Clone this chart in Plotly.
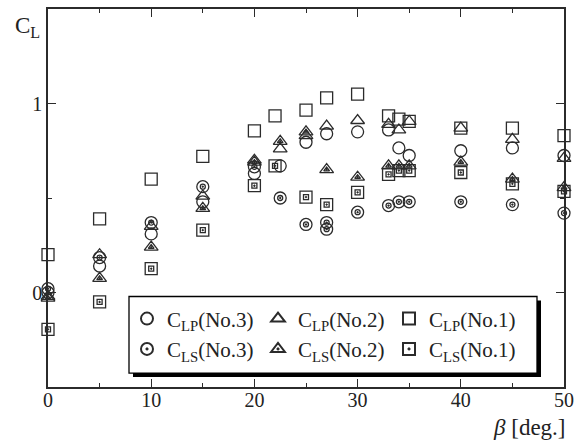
import plotly.graph_objects as go

# ---------------- data ----------------
beta_no1 = [0, 5, 10, 15, 20, 22, 25, 27, 30, 33, 34, 35, 40, 45, 50]
clp_no1 = [0.20, 0.39, 0.60, 0.72, 0.855, 0.935, 0.965, 1.03, 1.05, 0.935, 0.917, 0.905, 0.87, 0.87, 0.83]
cls_no1 = [-0.195, -0.05, 0.126, 0.33, 0.565, 0.67, 0.505, 0.465, 0.53, 0.625, 0.645, 0.645, 0.635, 0.575, 0.535]

beta_no2 = [0, 5, 10, 15, 20, 22.5, 25, 27, 30, 33, 34, 35, 40, 45, 50]
clp_no2 = [-0.02, 0.20, 0.35, 0.51, 0.70, 0.76, 0.83, 0.88, 0.91, 0.89, 0.86, 0.905, 0.87, 0.81, 0.71]
cls_no2 = [-0.03, 0.075, 0.24, 0.445, 0.69, 0.80, 0.85, 0.65, 0.61, 0.67, 0.67, 0.67, 0.69, 0.60, 0.555]

beta_lp3 = [0, 5, 10, 15, 20, 22.5, 25, 27, 30, 33, 34, 35, 40, 45, 50]
clp_no3 = [0.00, 0.14, 0.31, 0.48, 0.63, 0.67, 0.795, 0.84, 0.85, 0.86, 0.765, 0.725, 0.75, 0.765, 0.725]
beta_ls3 = [0, 5, 10, 15, 20, 22.5, 25, 27, 27, 30, 33, 34, 35, 40, 45, 50]
cls_no3 = [0.02, 0.185, 0.37, 0.56, 0.665, 0.50, 0.36, 0.37, 0.335, 0.425, 0.46, 0.48, 0.48, 0.48, 0.465, 0.42]

labels = ["C<sub>LP</sub>(No.3)", "C<sub>LP</sub>(No.2)", "C<sub>LP</sub>(No.1)",
          "C<sub>LS</sub>(No.3)", "C<sub>LS</sub>(No.2)", "C<sub>LS</sub>(No.1)"]

x_range = [0, 50]
y_range = [-0.5, 1.5]

# ---------------- styling ----------------
INK = "#2b2b2b"
FONT = "Liberation Serif"
LW = 1.3

fig = go.Figure()


def outer(x, y, name, symbol, size):
    fig.add_trace(go.Scatter(
        x=x, y=y, mode="markers", name=name, cliponaxis=False,
        marker=dict(symbol=symbol, size=size, color=INK,
                    line=dict(color=INK, width=LW)),
    ))


def inner(x, y, name, symbol, size):
    fig.add_trace(go.Scatter(
        x=x, y=y, mode="markers", name=name, cliponaxis=False, showlegend=False,
        marker=dict(symbol=symbol, size=size, color=INK,
                    line=dict(color=INK, width=LW)),
    ))


outer(beta_lp3, clp_no3, labels[0], "circle-open", 12)
outer(beta_no2, clp_no2, labels[1], "triangle-up-open", 12)
outer(beta_no1, clp_no1, labels[2], "square-open", 12)
outer(beta_ls3, cls_no3, labels[3], "circle-open-dot", 12)
outer(beta_no2, cls_no2, labels[4], "triangle-up-open-dot", 12)
outer(beta_no1, cls_no1, labels[5], "square-open-dot", 12)
inner(beta_ls3, cls_no3, labels[3], "circle-open", 5)
inner(beta_no2, cls_no2, labels[4], "triangle-up-open", 5)
inner(beta_no1, cls_no1, labels[5], "square-open", 5)

L, R, T, B = 48, 21, 7, 54
W, H = 585, 441
PW, PH = W - L - R, H - T - B


def px(xp):
    return (xp - L) / PW


def py(yp):
    return (H - B - yp) / PH


axis_common = dict(
    showline=True, linecolor=INK, linewidth=1.5, mirror="allticks",
    ticks="inside", ticklen=8, tickwidth=1.3, tickcolor=INK,
    showgrid=False, zeroline=False,
    tickfont=dict(family=FONT, size=20, color="#222"),
)

fig.update_xaxes(range=x_range, dtick=10, tick0=0, ticklabelstandoff=-6,
                 minor=dict(dtick=5, ticks="inside", ticklen=4, tickcolor=INK, tickwidth=1.3),
                 **axis_common)
fig.update_yaxes(range=y_range, tickvals=[0, 1], ticktext=["0", "1"],
                 minor=dict(dtick=0.5, tick0=0, ticks="inside", ticklen=4, tickcolor=INK, tickwidth=1.3),
                 **axis_common)

# legend frame with drop shadow
fig.add_shape(type="rect", xref="paper", yref="paper",
              x0=px(133), x1=px(541), y0=py(377), y1=py(300),
              fillcolor="black", line=dict(width=0), layer="above")
fig.add_shape(type="rect", xref="paper", yref="paper",
              x0=px(129), x1=px(537), y0=py(373), y1=py(296),
              fillcolor="white", line=dict(color="black", width=1.3), layer="above")

fig.add_annotation(text="C<sub>L</sub>", xref="paper", yref="paper",
                   x=px(13), y=py(25), xanchor="left", yanchor="middle",
                   showarrow=False, font=dict(family=FONT, size=23, color="#222"))
fig.add_annotation(text="<i>β</i> [deg.]", xref="paper", yref="paper",
                   x=px(568), y=py(428), xanchor="right", yanchor="middle",
                   showarrow=False, font=dict(family=FONT, size=23, color="#222"))

fig.update_layout(
    width=W, height=H,
    margin=dict(l=L, r=R, t=T, b=B, pad=0),
    plot_bgcolor="white", paper_bgcolor="white",
    font=dict(family=FONT, color="#222"),
    legend=dict(orientation="h", x=px(127), y=py(298), xanchor="left", yanchor="top",
                entrywidthmode="pixels", entrywidth=86, bgcolor="rgba(0,0,0,0)",
                borderwidth=0, font=dict(family=FONT, size=21, color="#222"),
                itemsizing="constant", tracegroupgap=0),
)

fig.write_html("out.html", config={"displayModeBar": False},
               post_script="document.body.style.margin='0';")
